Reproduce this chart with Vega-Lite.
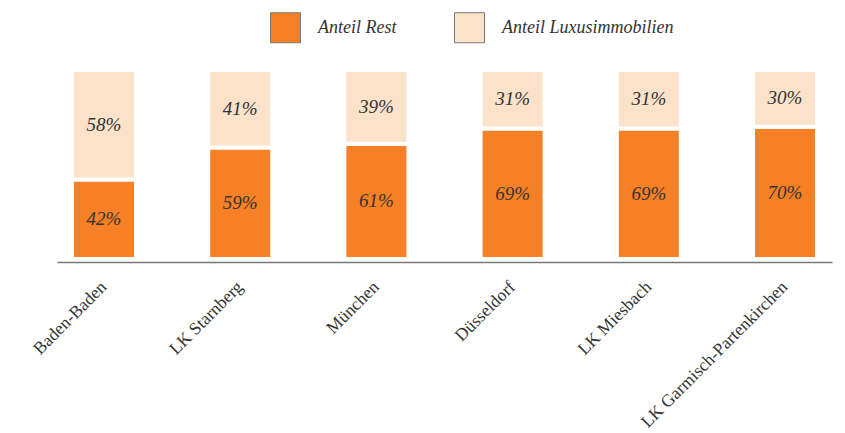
{
  "$schema": "https://vega.github.io/schema/vega-lite/v6.json",
  "width": 775,
  "height": 189,
  "autosize": {"type": "none"},
  "padding": {"left": 57, "top": 70, "right": 13, "bottom": 174},
  "config": {"view": {"stroke": null}, "font": "Liberation Serif"},
  "data": {
    "values": [
      {"region": "Baden-Baden", "typ": "Anteil Rest", "value": 42},
      {"region": "Baden-Baden", "typ": "Anteil Luxusimmobilien", "value": 58},
      {"region": "LK Starnberg", "typ": "Anteil Rest", "value": 59},
      {"region": "LK Starnberg", "typ": "Anteil Luxusimmobilien", "value": 41},
      {"region": "München", "typ": "Anteil Rest", "value": 61},
      {"region": "München", "typ": "Anteil Luxusimmobilien", "value": 39},
      {"region": "Düsseldorf", "typ": "Anteil Rest", "value": 69},
      {"region": "Düsseldorf", "typ": "Anteil Luxusimmobilien", "value": 31},
      {"region": "LK Miesbach", "typ": "Anteil Rest", "value": 69},
      {"region": "LK Miesbach", "typ": "Anteil Luxusimmobilien", "value": 31},
      {"region": "LK Garmisch-Partenkirchen", "typ": "Anteil Rest", "value": 70},
      {"region": "LK Garmisch-Partenkirchen", "typ": "Anteil Luxusimmobilien", "value": 30}
    ]
  },
  "transform": [
    {"calculate": "datum.typ === 'Anteil Rest' ? 0 : 1", "as": "ord"},
    {"stack": "value", "groupby": ["region"], "sort": [{"field": "ord", "order": "ascending"}], "as": ["v0", "v1"]},
    {"calculate": "(datum.v0 + datum.v1) / 2", "as": "mid"},
    {"calculate": "datum.value + '%'", "as": "lbl"}
  ],
  "encoding": {
    "x": {
      "field": "region",
      "type": "nominal",
      "sort": null,
      "scale": {"paddingInner": 0.53, "paddingOuter": 0.11},
      "axis": {
        "title": null,
        "labelAngle": -45,
        "labelAlign": "right",
        "labelBaseline": "middle",
        "labelFontSize": 17.5,
        "labelColor": "#333333",
        "labelPadding": 22,
        "labelLimit": 0,
        "ticks": false,
        "domainColor": "#777777",
        "domainWidth": 1.5,
        "offset": 3
      }
    }
  },
  "layer": [
    {
      "mark": {"type": "bar", "stroke": "white", "strokeWidth": 4},
      "encoding": {
        "y": {"field": "v0", "type": "quantitative", "scale": {"domain": [0, 100]}, "axis": null},
        "y2": {"field": "v1"},
        "color": {
          "field": "typ",
          "type": "nominal",
          "scale": {"domain": ["Anteil Rest", "Anteil Luxusimmobilien"], "range": ["#F58025", "#FDE2CA"]},
          "legend": {
            "title": null,
            "orient": "none",
            "direction": "horizontal",
            "legendX": 213,
            "legendY": -58,
            "symbolType": "square",
            "symbolSize": 900,
            "symbolStrokeColor": "#777777",
            "symbolStrokeWidth": 1,
            "symbolOpacity": 1,
            "labelFontSize": 18,
            "labelFontStyle": "italic",
            "labelColor": "#333333",
            "labelOffset": 17,
            "labelLimit": 0,
            "columnPadding": 55
          }
        }
      }
    },
    {
      "mark": {"type": "text", "fontSize": 19, "fontStyle": "italic", "color": "#333333"},
      "encoding": {
        "y": {"field": "mid", "type": "quantitative"},
        "text": {"field": "lbl"}
      }
    }
  ]
}
